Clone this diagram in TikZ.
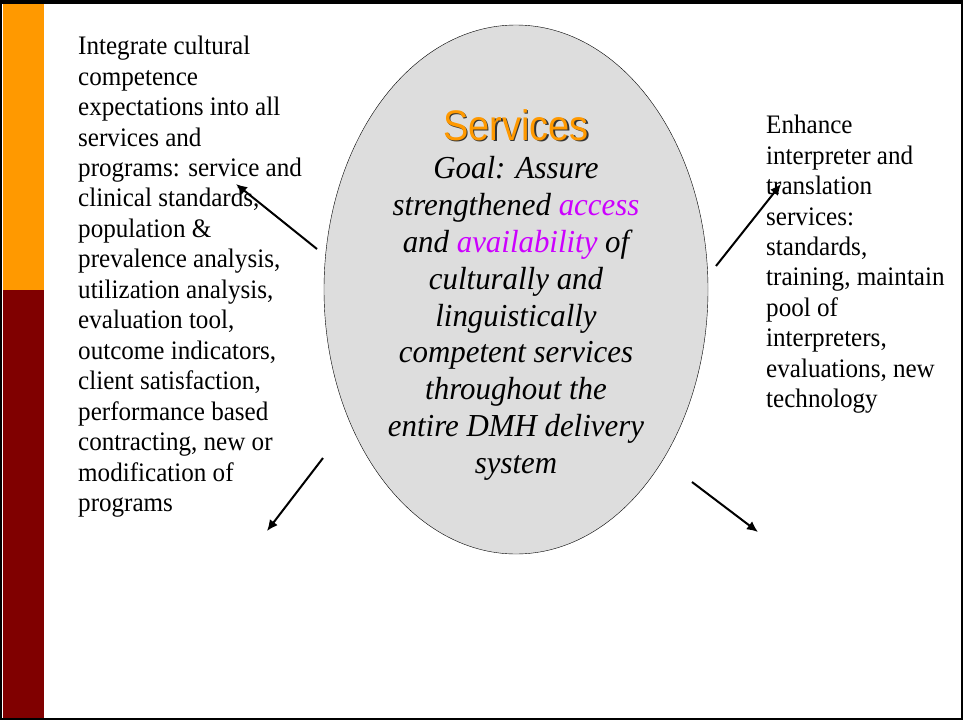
\documentclass[tikz,border=0pt]{standalone}
\usepackage{fontspec}
\setmainfont{Liberation Serif}[FakeStretch=0.94]
\newfontfamily\goalfont{Liberation Serif}[FakeStretch=0.965]
\newfontfamily\titlefont{Liberation Sans}[FakeStretch=0.89]
\usetikzlibrary{shapes.geometric,arrows.meta,positioning}
\definecolor{barorange}{RGB}{255,153,0}
\definecolor{barred}{RGB}{128,0,0}
\definecolor{ellgray}{RGB}{221,221,221}
\definecolor{keyword}{RGB}{204,0,255}
\begin{document}
\begin{tikzpicture}[x=1pt, y=-1pt,
    body/.style={inner sep=0, align=left, font=\fontsize{26.7}{30.45}\selectfont},
    goaltext/.style={inner sep=0, align=center, font=\goalfont\itshape\fontsize{32}{36.9}\selectfont},
    heading/.style={anchor=base, inner sep=0, font=\titlefont\fontsize{42.7}{48}\selectfont},
    arrow/.style={-{Latex[length=11pt,width=10pt]}, line width=2pt}]
  \useasboundingbox (0,0) rectangle (963,720);
  \fill [barorange] (3,3) rectangle (44,290);
  \fill [barred] (3,290) rectangle (44,718);
  \draw [line width=2pt] (1,1) rectangle (962,719);
  \draw [line width=4pt] (0,2) -- (963,2);
  \node (svc) [ellipse, draw, fill=ellgray, minimum width=384pt, minimum height=529pt, inner sep=0] at (516,289.5) {};
  \node (shadow) [heading, text=black!80] at (517.5,141.5) {Services};
  \node (title) [heading, text=barorange] at (516,140) {Services};
  \node (goal) [goaltext, anchor=north] at (516,156) {Goal: Assure\\ strengthened \textcolor{keyword}{access}\\ and \textcolor{keyword}{availability} of\\ culturally and\\ linguistically\\ competent services\\ throughout the\\ entire DMH delivery\\ system};
  \node (plans) [body, anchor=north west] at (78,36) {Integrate cultural\\ competence\\ expectations into all\\ services and\\ programs: service and\\ clinical standards,\\ population \&\\ prevalence analysis,\\ utilization analysis,\\ evaluation tool,\\ outcome indicators,\\ client satisfaction,\\ performance based\\ contracting, new or\\ modification of\\ programs};
  \node (interp) [body, anchor=north west] at (766,115) {Enhance\\ interpreter and\\ translation\\ services:\\ standards,\\ training, maintain\\ pool of\\ interpreters,\\ evaluations, new\\ technology};
  \coordinate (ulfrom) at (317,249);
  \coordinate (ulto) at (236,184);
  \coordinate (urfrom) at (716,266);
  \coordinate (urto) at (781,184);
  \coordinate (llfrom) at (323,458);
  \coordinate (llto) at (267,531);
  \coordinate (lrfrom) at (692,482);
  \coordinate (lrto) at (758,532);
  \draw [arrow] (ulfrom) -- (ulto);
  \draw [arrow] (urfrom) -- (urto);
  \draw [arrow] (llfrom) -- (llto);
  \draw [arrow] (lrfrom) -- (lrto);
\end{tikzpicture}
\end{document}
